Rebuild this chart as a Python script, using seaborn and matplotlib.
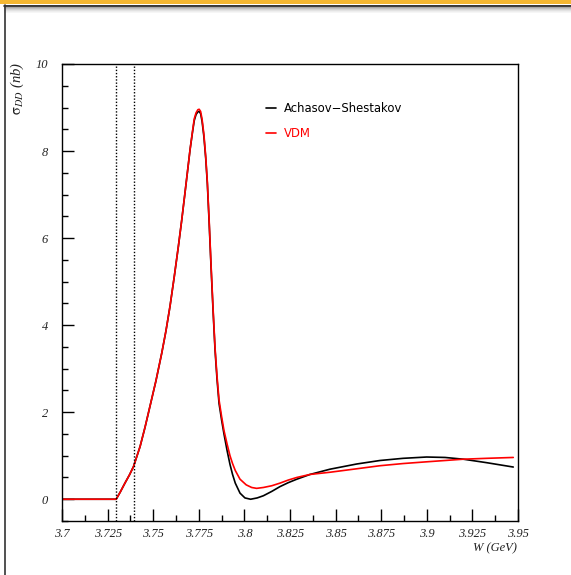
import numpy as np
import pandas as pd
import matplotlib
matplotlib.use("Agg")
import matplotlib.pyplot as plt
from matplotlib.patches import Rectangle
from matplotlib.lines import Line2D
from matplotlib.ticker import MultipleLocator
import seaborn as sns

# ---- data ----
w_as = [3.700, 3.7297, 3.7320, 3.7345, 3.7370, 3.7392, 3.7428, 3.7455, 3.7482, 3.7515,
        3.7547, 3.7570, 3.7592, 3.7615, 3.7638, 3.7656, 3.7674, 3.7690, 3.7702, 3.7715,
        3.7725, 3.7735, 3.7745, 3.7752, 3.7760, 3.7768, 3.7778, 3.7788, 3.7797, 3.7807,
        3.7817, 3.7828, 3.7839, 3.7850, 3.7861, 3.7875, 3.7888, 3.7905, 3.7921, 3.7935,
        3.7950, 3.7976, 3.8003, 3.8034, 3.8070, 3.8104, 3.8150, 3.8195, 3.8240, 3.8287,
        3.8360, 3.8469, 3.8616, 3.8743, 3.8870, 3.8999, 3.9100, 3.9200, 3.9328, 3.9474]
sigma_as = [0.0, 0.0, 0.17, 0.37, 0.56, 0.75, 1.21, 1.65, 2.13, 2.72,
            3.36, 3.87, 4.43, 5.10, 5.81, 6.40, 7.03, 7.60, 8.03, 8.42,
            8.70, 8.84, 8.90, 8.91, 8.86, 8.68, 8.33, 7.83, 7.24, 6.33,
            5.35, 4.35, 3.43, 2.75, 2.20, 1.82, 1.50, 1.12, 0.80, 0.57,
            0.37, 0.14, 0.03, 0.0, 0.03, 0.08, 0.18, 0.29, 0.38, 0.46,
            0.57, 0.69, 0.81, 0.89, 0.94, 0.97, 0.96, 0.92, 0.84, 0.74]

w_vdm = [3.700, 3.7297, 3.7320, 3.7345, 3.7370, 3.7392, 3.7428, 3.7455, 3.7482, 3.7515,
         3.7547, 3.7570, 3.7592, 3.7615, 3.7638, 3.7656, 3.7674, 3.7690, 3.7702, 3.7715,
         3.7725, 3.7735, 3.7745, 3.7752, 3.7760, 3.7768, 3.7778, 3.7788, 3.7797, 3.7807,
         3.7817, 3.7828, 3.7839, 3.7850, 3.7861, 3.7875, 3.7888, 3.7905, 3.7921, 3.7935,
         3.7950, 3.7976, 3.8010, 3.8040, 3.8067, 3.8104, 3.8150, 3.8195, 3.8240, 3.8287,
         3.8360, 3.8469, 3.8616, 3.8743, 3.8870, 3.8999, 3.9100, 3.9200, 3.9328, 3.9474]
sigma_vdm = [0.0, 0.0, 0.17, 0.37, 0.56, 0.75, 1.21, 1.65, 2.13, 2.72,
             3.36, 3.87, 4.43, 5.10, 5.81, 6.40, 7.03, 7.60, 8.03, 8.44,
             8.74, 8.88, 8.95, 8.96, 8.91, 8.73, 8.38, 7.87, 7.28, 6.38,
             5.40, 4.40, 3.48, 2.82, 2.28, 1.90, 1.58, 1.27, 1.00, 0.82,
             0.66, 0.46, 0.33, 0.27, 0.25, 0.27, 0.31, 0.37, 0.44, 0.50,
             0.57, 0.62, 0.70, 0.77, 0.82, 0.86, 0.89, 0.92, 0.94, 0.96]

thresholds = [3.7297, 3.7392]
series_names = ["Achasov\u2212Shestakov", "VDM"]
series_colors = ["black", "red"]
x_ticks = [3.7, 3.725, 3.75, 3.775, 3.8, 3.825, 3.85, 3.875, 3.9, 3.925, 3.95]
x_tick_labels = ["3.7", "3.725", "3.75", "3.775", "3.8", "3.825", "3.85", "3.875", "3.9", "3.925", "3.95"]
y_ticks = [0, 2, 4, 6, 8, 10]

df = pd.concat([
    pd.DataFrame({"W": w_as, "sigma": sigma_as, "model": series_names[0]}),
    pd.DataFrame({"W": w_vdm, "sigma": sigma_vdm, "model": series_names[1]}),
])

sns.set_theme(style="white")
plt.rcParams["mathtext.fontset"] = "stix"

fig = plt.figure(figsize=(5.71, 5.75), dpi=100)
fig.patch.set_facecolor("white")
ax = fig.add_axes([62 / 571, 54 / 575, 456 / 571, 457 / 575])

sns.lineplot(data=df, x="W", y="sigma", hue="model", palette=series_colors,
             estimator=None, sort=False, linewidth=1.2, ax=ax, legend=True)

for t in thresholds:
    ax.axvline(t, color="black", linestyle=(0, (1, 1.3)), linewidth=1.0)

ax.set_xlim(3.7, 3.95)
ax.set_ylim(-0.5, 10)
ax.set_xticks(x_ticks)
ax.set_xticklabels(x_tick_labels)
ax.set_yticks(y_ticks)
ax.xaxis.set_minor_locator(MultipleLocator(0.0125))
ax.yaxis.set_minor_locator(MultipleLocator(0.5))
ax.tick_params(which="major", direction="in", length=8.5, width=1.0, color="black",
               bottom=True, left=True, top=False, right=False)
ax.tick_params(which="minor", direction="in", length=4.5, width=1.0, color="black",
               bottom=True, left=True, top=False, right=False)
ax.tick_params(axis="x", which="major", pad=5)
ax.tick_params(axis="y", which="major", pad=10)
for lab in ax.get_xticklabels() + ax.get_yticklabels():
    lab.set_fontfamily("Liberation Serif")
    lab.set_fontstyle("italic")
    lab.set_fontsize(9)
    lab.set_color("#222222")
for s in ax.spines.values():
    s.set_color("black")
    s.set_linewidth(1.0)
ax.set_xlabel("")
ax.set_ylabel("")

leg = ax.legend(loc="upper left", bbox_to_anchor=(0.425, 0.94), frameon=False,
                handlelength=0.8, handletextpad=0.75, labelspacing=1.05,
                prop={"family": "DejaVu Sans", "size": 8.4})
for txt, c in zip(leg.get_texts(), series_colors):
    txt.set_color(c)
for ln in leg.get_lines():
    ln.set_linewidth(1.2)

fig.text(517 / 571, 1 - 548 / 575, "W (GeV)", ha="right", va="center",
         fontfamily="Liberation Serif", fontstyle="italic", fontsize=9, color="#222222")
fig.text(17 / 571, 1 - 62 / 575, r"$\mathrm{\sigma}_{DD}$ (nb)", rotation=90,
         ha="center", va="top", fontfamily="Liberation Serif", fontstyle="italic",
         fontsize=10.5, color="#222222")

# window-like decoration around the canvas
H = 575.0
W = 571.0
fig.add_artist(Rectangle((0, 1 - 4 / H), 1, 4 / H, transform=fig.transFigure,
                         facecolor="#f4b732", edgecolor="none"))
grays = ["#555555", "#8a8a8a", "#a8a8a8", "#c0c0c0", "#d3d3d3", "#e2e2e2", "#eeeeee", "#f6f6f6"]
for i, g in enumerate(grays):
    fig.add_artist(Rectangle((4 / W, 1 - (5 + i + 1) / H), 1, 1 / H, transform=fig.transFigure,
                             facecolor=g, edgecolor="none"))
fig.add_artist(Line2D([4.5 / W, 4.5 / W], [0, 1 - 5 / H], transform=fig.transFigure,
                      color="#333333", linewidth=1.2))
fig.add_artist(Line2D([4 / W, 1], [1 - 5.5 / H, 1 - 5.5 / H], transform=fig.transFigure,
                      color="#333333", linewidth=1.2))

fig.savefig("out.png", dpi=100)
